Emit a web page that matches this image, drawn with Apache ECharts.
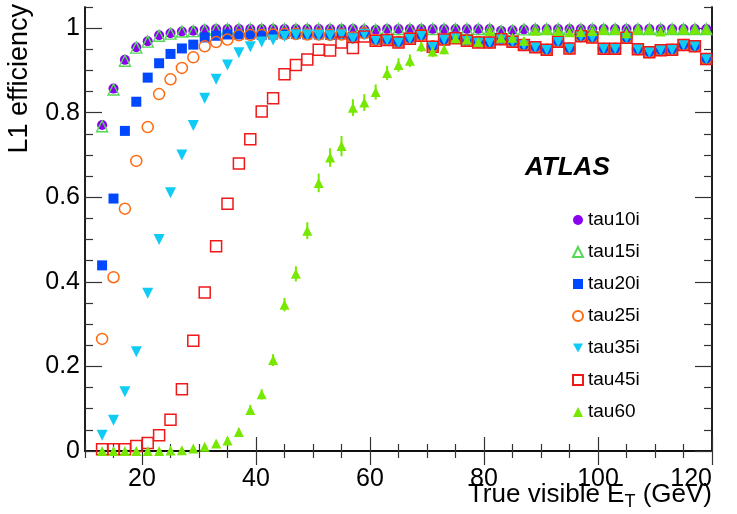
<!DOCTYPE html>
<html><head><meta charset="utf-8">
<script src="https://cdn.jsdelivr.net/npm/echarts@6/dist/echarts.min.js"></script>
<style>html,body{margin:0;padding:0;background:#fff}#c{width:737px;height:514px}</style>
</head><body><div id="c"></div>
<script>
// True visible ET bin centres (GeV)
const et = [13,15,17,19,21,23,25,27,29,31,33,35,37,39,41,43,45,47,49,51,53,55,57,59,61,63,65,67,69,71,73,75,77,79,81,83,85,87,89,91,93,95,97,99,101,103,105,107,109,111,113,115,117,119];

const tau10i = [0.771,0.857,0.925,0.955,0.969,0.983,0.988,0.992,0.994,0.997,0.998,0.998,0.998,0.998,0.998,0.998,0.998,0.998,0.998,0.998,0.998,0.998,0.998,0.997,0.996,0.998,0.998,0.998,0.998,0.998,0.998,0.998,0.998,0.998,0.998,0.994,0.995,0.997,0.998,0.998,0.998,0.998,0.998,0.998,0.998,0.998,0.998,0.998,0.998,0.998,0.998,0.998,0.998,0.998];
const tau15i = [0.768,0.855,0.923,0.954,0.968,0.982,0.987,0.992,0.993,0.996,0.997,0.998,0.998,0.998,0.998,0.998,0.998,0.998,0.998,0.998,0.998,0.998,0.997,0.997,0.996,0.997,0.998,0.998,0.998,0.998,0.998,0.998,0.998,0.998,0.998,0.993,0.994,0.997,0.998,0.998,0.998,0.998,0.998,0.998,0.998,0.998,0.997,0.998,0.998,0.998,0.998,0.998,0.998,0.998];
const tau20i = [0.439,0.597,0.757,0.826,0.883,0.917,0.939,0.952,0.961,0.978,0.982,0.985,0.985,0.985,0.984,0.985,0.986,0.986,0.985,0.985,0.984,0.985,0.978,0.988,0.972,0.973,0.967,0.976,0.983,0.957,0.973,0.977,0.971,0.967,0.966,0.974,0.968,0.960,0.955,0.949,0.968,0.952,0.981,0.978,0.951,0.951,0.977,0.950,0.943,0.948,0.949,0.960,0.957,0.927];
const tau25i = [0.265,0.411,0.573,0.686,0.766,0.844,0.879,0.906,0.931,0.957,0.967,0.973,0.983,0.984,0.984,0.985,0.986,0.986,0.985,0.985,0.984,0.985,0.978,0.988,0.972,0.973,0.967,0.976,0.983,0.957,0.973,0.977,0.971,0.967,0.966,0.974,0.968,0.960,0.955,0.949,0.968,0.952,0.981,0.978,0.951,0.951,0.977,0.950,0.943,0.948,0.949,0.960,0.957,0.927];
const tau35i = [0.037,0.073,0.140,0.235,0.373,0.500,0.611,0.700,0.770,0.834,0.879,0.913,0.942,0.956,0.967,0.972,0.980,0.984,0.984,0.983,0.982,0.984,0.975,0.985,0.971,0.972,0.966,0.975,0.982,0.956,0.973,0.976,0.970,0.966,0.966,0.974,0.968,0.960,0.955,0.949,0.968,0.952,0.981,0.978,0.951,0.951,0.977,0.950,0.943,0.948,0.949,0.960,0.957,0.927];
const tau45i = [0.004,0.004,0.004,0.012,0.019,0.037,0.074,0.146,0.261,0.375,0.484,0.585,0.680,0.737,0.803,0.834,0.891,0.913,0.926,0.949,0.947,0.966,0.953,0.980,0.970,0.972,0.966,0.975,0.982,0.956,0.973,0.976,0.970,0.966,0.966,0.974,0.968,0.960,0.955,0.949,0.968,0.952,0.981,0.978,0.951,0.951,0.977,0.950,0.943,0.948,0.949,0.960,0.957,0.927];
const tau60 = [0.000,0.000,0.000,0.000,0.000,0.000,0.001,0.002,0.006,0.010,0.018,0.025,0.045,0.097,0.134,0.215,0.346,0.419,0.521,0.634,0.694,0.721,0.812,0.824,0.849,0.894,0.913,0.923,0.957,0.945,0.950,0.976,0.973,0.967,0.993,0.977,0.977,0.970,0.994,0.996,0.993,0.990,0.991,0.993,0.996,0.996,0.988,0.997,0.997,0.992,0.997,0.997,0.997,0.997];
const tau60Err = [0,0,0,0,0,0,0.002,0.003,0.004,0.005,0.006,0.007,0.009,0.012,0.012,0.014,0.016,0.018,0.02,0.022,0.022,0.024,0.02,0.02,0.018,0.017,0.016,0.015,0.013,0.013,0.012,0.01,0.01,0.01,0.008,0.008,0.008,0.008,0.006,0.006,0.006,0.006,0.006,0.006,0.006,0.006,0.006,0.006,0.006,0.006,0.006,0.006,0.006,0.006];

const xMajor = [20,40,60,80,100,120];
const xMinor = [10,15,25,30,35,45,50,55,65,70,75,85,90,95,105,110,115];
const yMajor = [0,0.2,0.4,0.6,0.8,1.0];
const yMinor = [0.05,0.1,0.15,0.25,0.3,0.35,0.45,0.5,0.55,0.65,0.7,0.75,0.85,0.9,0.95,1.05];

const FONT = "'Liberation Sans', Arial, Helvetica, sans-serif";
const pts = a => et.map((x, i) => [x, a[i]]);

const axisLine = {show: true, lineStyle: {color: '#111', width: 1.5}};
function xAx(pos, ticks, len, labels) {
  return {type: 'value', min: 10, max: 120, position: pos, splitLine: {show: false},
    axisLine: axisLine,
    axisTick: {show: true, inside: true, length: len, customValues: ticks, lineStyle: {color: '#333', width: 1.2}},
    axisLabel: labels ? {show: true, customValues: xMajor, fontSize: 25, color: '#000', fontFamily: FONT, margin: 16,
      alignMaxLabel: 'right'} : {show: false}};
}
function yAx(pos, ticks, len, labels) {
  return {type: 'value', min: 0, max: 1.05, position: pos, splitLine: {show: false},
    axisLine: axisLine,
    axisTick: {show: true, inside: true, length: len, customValues: ticks, lineStyle: {color: '#333', width: 1.2}},
    axisLabel: labels ? {show: true, customValues: yMajor, fontSize: 25, color: '#000', fontFamily: FONT, margin: 5,
      formatter: v => (v === 0 ? '0' : v === 1 ? '1' : String(Math.round(v * 10) / 10))} : {show: false}};
}

const ser = (name, data, symbol, size, style) => ({
  name, type: 'scatter', data: pts(data), symbol, symbolSize: size,
  xAxisIndex: 0, yAxisIndex: 0, itemStyle: Object.assign({opacity: 1}, style), emphasis: {disabled: true}, clip: false
});
const downTri = 'path://M0,0 L10,0 L5,9 Z';

const option = {
  animation: false,
  backgroundColor: '#fff',
  grid: {left: 85, right: 25, top: 7, bottom: 63},
  xAxis: [xAx('bottom', xMajor, 14, true), xAx('bottom', xMinor, 7, false), xAx('top', xMajor, 14, false), xAx('top', xMinor, 7, false)],
  yAxis: [yAx('left', yMajor, 17, true), yAx('left', yMinor, 8, false), yAx('right', yMajor, 17, false), yAx('right', yMinor, 8, false)],
  legend: {
    orient: 'vertical', left: 572, top: 210, padding: 0, itemGap: 12, itemWidth: 10, itemHeight: 10,
    textStyle: {fontSize: 19, fontFamily: FONT, color: '#000', lineHeight: 20},
    data: [
      {name: 'tau10i', icon: 'circle'},
      {name: 'tau15i', icon: 'triangle'},
      {name: 'tau20i', icon: 'rect'},
      {name: 'tau25i', icon: 'circle'},
      {name: 'tau35i', icon: downTri},
      {name: 'tau45i', icon: 'rect'},
      {name: 'tau60', icon: 'triangle'}
    ]
  },
  graphic: [
    {type: 'text', left: 525, top: 155, style: {text: 'ATLAS', font: "italic bold 26px " + FONT, fill: '#000'}},
    {type: 'text', x: 20, y: 4, rotation: Math.PI / 2,
      style: {text: 'L1 efficiency', font: "27px " + FONT, fill: '#000', align: 'right', verticalAlign: 'middle'}},
    {type: 'text', right: 25, top: 482,
      style: {text: 'True visible E{s|T} (GeV)', font: "26px " + FONT, fill: '#000',
        rich: {s: {fontSize: 18, fontFamily: FONT, padding: [15, 0, 0, 0]}}}}
  ],
  series: [
    ser('tau10i', tau10i, 'circle', 10, {color: '#8a00f0'}),
    ser('tau15i', tau15i, 'triangle', 11, {color: 'rgba(0,0,0,0)', borderColor: '#55d855', borderWidth: 1.4}),
    ser('tau20i', tau20i, 'rect', 10, {color: '#0048ff'}),
    ser('tau25i', tau25i, 'circle', 11, {color: 'rgba(0,0,0,0)', borderColor: '#ff6a10', borderWidth: 1.5}),
    ser('tau35i', tau35i, downTri, 11, {color: '#10ccf5'}),
    ser('tau45i', tau45i, 'rect', 11, {color: 'rgba(0,0,0,0)', borderColor: '#f01818', borderWidth: 1.5}),
    {
      name: 'tau60err', type: 'custom', xAxisIndex: 0, yAxisIndex: 0, silent: true,
      data: et.map((x, i) => [x, tau60[i], tau60Err[i]]),
      renderItem: (params, api) => {
        const top = api.coord([api.value(0), api.value(1) + api.value(2)]);
        const bot = api.coord([api.value(0), api.value(1) - api.value(2)]);
        return {type: 'line', shape: {x1: top[0], y1: top[1], x2: bot[0], y2: bot[1]}, style: {stroke: '#77e800', lineWidth: 2}};
      }
    },
    ser('tau60', tau60, 'triangle', 10, {color: '#77e800'})
  ]
};
echarts.init(document.getElementById('c')).setOption(option);
</script></body></html>
